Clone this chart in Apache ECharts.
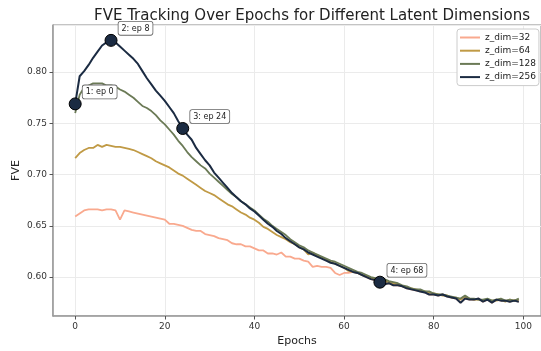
<!DOCTYPE html>
<html>
<head>
<meta charset="utf-8">
<script src="https://cdn.jsdelivr.net/npm/echarts@6/dist/echarts.min.js"></script>
<style>
html,body{margin:0;padding:0;background:#fff;}
#c{width:541px;height:351px;}
</style>
</head>
<body>
<div id="c"></div>
<script>
const epochs = Array.from({length:100}, (_, i) => i);
const seriesNames = ['z_dim=32','z_dim=64','z_dim=128','z_dim=256'];
const z32 = [0.659,0.662,0.665,0.666,0.666,0.666,0.665,0.666,0.666,0.665,
0.656,0.665,0.664,0.663,0.662,0.661,0.660,0.659,0.658,0.657,
0.656,0.652,0.652,0.651,0.650,0.648,0.646,0.645,0.645,0.642,
0.641,0.640,0.638,0.637,0.636,0.633,0.632,0.632,0.630,0.630,
0.628,0.626,0.626,0.623,0.623,0.622,0.624,0.620,0.620,0.618,
0.618,0.616,0.615,0.610,0.611,0.610,0.610,0.609,0.604,0.602,
0.604,0.604,0.605,0.604,0.602,0.600,0.598,0.597,0.595,0.593,
0.594,0.592,0.592,0.591,0.589,0.588,0.587,0.586,0.585,0.583,
0.583,0.582,0.583,0.581,0.580,0.579,0.575,0.579,0.578,0.578,
0.579,0.576,0.578,0.575,0.578,0.577,0.577,0.576,0.577,0.576];
const z64 = [0.716,0.721,0.724,0.726,0.726,0.729,0.727,0.729,0.728,0.727,
0.727,0.726,0.725,0.724,0.722,0.720,0.718,0.716,0.713,0.711,
0.709,0.707,0.704,0.701,0.699,0.696,0.693,0.690,0.687,0.684,
0.682,0.680,0.677,0.674,0.671,0.669,0.666,0.663,0.661,0.658,
0.656,0.653,0.649,0.647,0.644,0.641,0.639,0.637,0.634,0.632,
0.629,0.627,0.622,0.624,0.621,0.619,0.617,0.615,0.613,0.611,
0.609,0.606,0.605,0.604,0.602,0.601,0.599,0.598,0.596,0.596,
0.595,0.594,0.593,0.591,0.590,0.589,0.588,0.587,0.586,0.585,
0.584,0.583,0.582,0.582,0.580,0.580,0.578,0.581,0.579,0.578,
0.578,0.577,0.578,0.577,0.577,0.578,0.576,0.578,0.577,0.578];
const z128 = [0.760,0.778,0.785,0.787,0.789,0.789,0.789,0.787,0.787,0.786,
0.783,0.781,0.778,0.775,0.771,0.767,0.765,0.762,0.758,0.753,
0.749,0.744,0.739,0.733,0.728,0.722,0.717,0.713,0.709,0.706,
0.701,0.697,0.693,0.689,0.685,0.681,0.678,0.674,0.671,0.668,
0.665,0.661,0.657,0.654,0.650,0.647,0.644,0.641,0.637,0.634,
0.631,0.629,0.626,0.624,0.622,0.620,0.618,0.616,0.615,0.613,
0.611,0.609,0.607,0.605,0.604,0.602,0.600,0.599,0.597,0.598,
0.596,0.595,0.594,0.592,0.591,0.589,0.588,0.588,0.586,0.586,
0.584,0.583,0.583,0.582,0.581,0.580,0.579,0.582,0.579,0.579,
0.578,0.578,0.579,0.577,0.578,0.579,0.577,0.578,0.577,0.579];
const z256 = [0.769,0.796,0.801,0.807,0.814,0.820,0.826,0.829,0.831,0.829,
0.825,0.821,0.817,0.813,0.808,0.801,0.794,0.788,0.782,0.777,
0.772,0.766,0.760,0.752,0.745,0.739,0.734,0.726,0.720,0.714,
0.709,0.702,0.697,0.692,0.687,0.682,0.678,0.674,0.671,0.667,
0.664,0.660,0.656,0.652,0.649,0.645,0.642,0.638,0.635,0.632,
0.629,0.627,0.624,0.622,0.620,0.618,0.616,0.614,0.613,0.611,
0.609,0.607,0.605,0.604,0.602,0.600,0.598,0.597,0.595,0.593,
0.594,0.592,0.592,0.591,0.589,0.588,0.587,0.586,0.585,0.583,
0.583,0.582,0.583,0.581,0.580,0.579,0.575,0.579,0.578,0.578,
0.579,0.576,0.578,0.575,0.578,0.577,0.577,0.576,0.577,0.576];
const annotEpochs = [0, 8, 24, 68];

const colors = ['#f9a98e', '#c09a45', '#6b7a56', '#1b2b42'];
const allData = [z32, z64, z128, z256];

const chart = echarts.init(document.getElementById('c'), null, {renderer:'canvas'});
const FONT = 'DejaVu Sans';

const lineSeries = allData.map((arr, k) => ({
  name: seriesNames[k],
  type: 'line',
  data: epochs.map((e, i) => [e, arr[i]]),
  showSymbol: false,
  symbol: 'none',
  lineStyle: {color: colors[k], width: k === 3 ? 2 : 1.8},
  itemStyle: {color: colors[k]},
  z: 2 + k,
  animation: false
}));

const annotSeries = {
  type: 'scatter',
  data: annotEpochs.map((e, j) => ({
    value: [e, z256[epochs.indexOf(e)]],
    label: {formatter: (j + 1) + ': ep ' + e}
  })),
  symbol: 'circle',
  symbolSize: 12,
  itemStyle: {color: '#1b2b42', borderColor: '#000', borderWidth: 1, opacity: 1},
  label: {
    show: true,
    position: [14, -12],
    fontFamily: FONT,
    fontSize: 8,
    color: '#222',
    backgroundColor: '#fff',
    borderColor: '#666',
    borderWidth: 0.8,
    borderRadius: 2,
    padding: [3, 3, 2, 3]
  },
  z: 10,
  animation: false
};

chart.setOption({
  animation: false,
  backgroundColor: '#fff',
  title: {
    text: 'FVE Tracking Over Epochs for Different Latent Dimensions',
    left: 89, top: 4,
    textStyle: {fontFamily: FONT, fontSize: 15, fontWeight: 'normal', color: '#222'}
  },
  legend: {
    data: seriesNames,
    orient: 'vertical',
    left: 457, top: 29,
    itemWidth: 20, itemHeight: 9,
    itemGap: 4.2,
    icon: 'path://M0,4 L20,4 L20,6 L0,6 Z',
    padding: [4, 3, 4, 3],
    backgroundColor: '#fff',
    borderColor: '#ccc',
    borderWidth: 1,
    borderRadius: 3,
    textStyle: {fontFamily: FONT, fontSize: 9, color: '#222'}
  },
  grid: {left: 53, right: 0, top: 25, bottom: 35, show: true, borderColor: '#888', borderWidth: 1,
    outerBoundsMode: 'none', containLabel: false},
  xAxis: {
    type: 'value',
    min: -4.95, max: 103.95,
    splitNumber: 5,
    name: 'Epochs', nameLocation: 'middle', nameGap: 20, nameMoveOverlap: false,
    nameTextStyle: {fontFamily: FONT, fontSize: 11, color: '#222'},
    axisLine: {show: true, onZero: false, lineStyle: {color: '#999', width: 1.5}},
    axisTick: {show: true, length: 3.5, lineStyle: {color: '#555'}},
    axisLabel: {fontFamily: FONT, fontSize: 9, color: '#333', margin: 6, showMinLabel: false, showMaxLabel: false},
    splitLine: {show: true, lineStyle: {color: '#ebebeb', width: 1}}
  },
  yAxis: {
    type: 'value',
    min: 0.562, max: 0.846,
    splitNumber: 5,
    name: 'FVE', nameLocation: 'middle', nameGap: 31, nameMoveOverlap: false,
    nameTextStyle: {fontFamily: FONT, fontSize: 11, color: '#222'},
    axisLine: {show: true, onZero: false, lineStyle: {color: '#999', width: 1.5}},
    axisTick: {show: true, length: 3.5, lineStyle: {color: '#555'}},
    axisLabel: {fontFamily: FONT, fontSize: 9, color: '#333', margin: 6, showMinLabel: false, showMaxLabel: false,
      formatter: v => v.toFixed(2)},
    splitLine: {show: true, lineStyle: {color: '#ebebeb', width: 1}}
  },
  series: [...lineSeries, annotSeries]
});
</script>
</body>
</html>
